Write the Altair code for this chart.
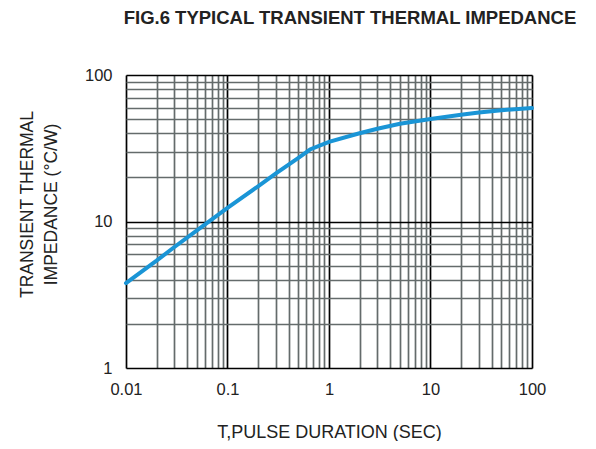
import altair as alt
import pandas as pd

# Curve data (log-log)
pulse_sec = [0.01, 0.02, 0.03, 0.05, 0.1, 0.2, 0.3, 0.5, 0.65, 1, 2, 3, 5, 10, 20, 30, 50, 100]
impedance = [3.8, 5.4, 6.7, 8.7, 12.4, 17.4, 21.3, 27.2, 31, 35, 40, 43, 46.5, 50, 53.5, 55.5, 57.5, 59.5]

# Tick / grid values
x_ticks = [m * 10.0 ** e for e in range(-2, 2) for m in range(1, 10)] + [100.0]
y_ticks = [m * 10.0 ** e for e in range(0, 2) for m in range(1, 10)] + [100.0]

df = pd.DataFrame({"t": pulse_sec, "z": impedance})

decade = "abs(log(datum.value)/LN10 - round(log(datum.value)/LN10)) < 1e-6"
FONT = "Liberation Sans"

x_axis = alt.Axis(
    values=x_ticks,
    format="~g",
    labelExpr=f"({decade}) ? datum.label : ''",
    labelOverlap=False,
    labelFlush=False,
    labelFont=FONT,
    labelFontSize=16.5,
    labelColor="#222222",
    labelPadding=13,
    ticks=False,
    domain=False,
    grid=True,
    gridColor={"condition": {"test": decade, "value": "#000000"}, "value": "#646b6b"},
    gridWidth=1.7,
    gridOpacity=1,
    title="T,PULSE DURATION (SEC)",
    titleFont=FONT,
    titleFontSize=18,
    titleFontWeight="normal",
    titleColor="#222222",
    titleBaseline="alphabetic",
    titleY=69,
)

y_axis = alt.Axis(
    values=y_ticks,
    format="~g",
    labelExpr=f"({decade}) ? datum.label : ''",
    labelOverlap=False,
    labelFlush=False,
    labelFont=FONT,
    labelFontSize=16.5,
    labelColor="#222222",
    labelPadding=14,
    ticks=False,
    domain=False,
    grid=True,
    gridColor={"condition": {"test": decade, "value": "#000000"}, "value": "#646b6b"},
    gridWidth=1.7,
    gridOpacity=1,
    title=["TRANSIENT THERMAL", "IMPEDANCE (°C/W)"],
    titleFont=FONT,
    titleFontSize=17.5,
    titleFontWeight="normal",
    titleColor="#222222",
    titleBaseline="alphabetic",
    titleLineHeight=24,
    titleAngle=270,
    titleAlign="center",
    titleX=-94,
    titleY=129,
)

chart = (
    alt.Chart(df)
    .mark_line(color="#1a95d6", strokeWidth=4, strokeCap="round")
    .encode(
        x=alt.X("t:Q", scale=alt.Scale(type="log", domain=[0.01, 100], nice=False), axis=x_axis),
        y=alt.Y("z:Q", scale=alt.Scale(type="log", domain=[1, 100], nice=False), axis=y_axis),
    )
    .properties(
        width=406,
        height=293,
        autosize=alt.AutoSizeParams(type="none"),
        padding={"left": 118, "top": 67, "right": 52, "bottom": 73},
        title=alt.TitleParams(
            "FIG.6 TYPICAL TRANSIENT THERMAL IMPEDANCE",
            font=FONT,
            fontSize=18.5,
            fontWeight="bold",
            color="#222222",
            anchor="middle",
            frame="group",
            baseline="alphabetic",
            offset=25,
            dx=21,
        ),
    )
    .configure_view(stroke="#111111", strokeWidth=2.5)
    .configure(background="white")
)

chart.save("out.html", embed_options={"renderer": "svg", "actions": False})
